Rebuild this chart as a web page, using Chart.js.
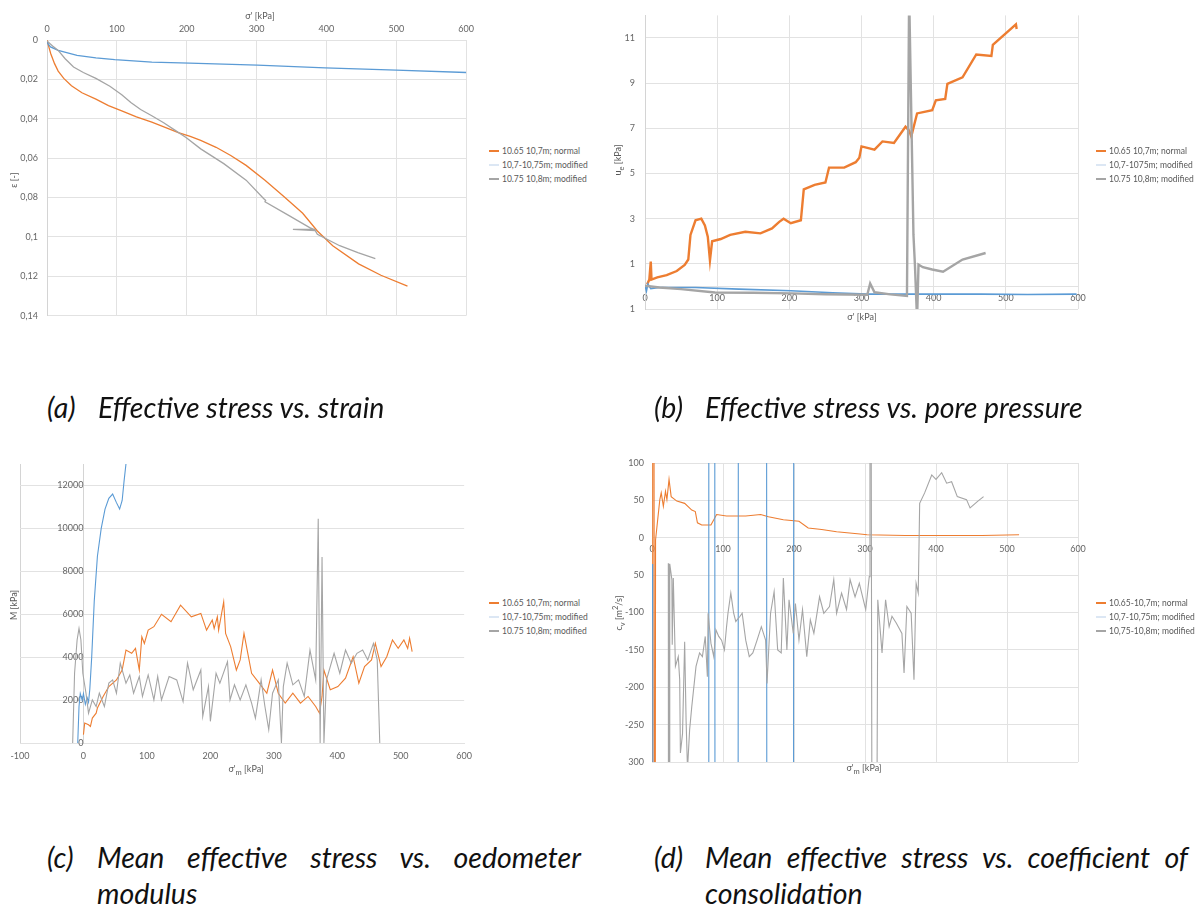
<!DOCTYPE html>
<html>
<head>
<meta charset="utf-8">
<script src="https://cdn.jsdelivr.net/npm/chart.js@4.4.1/dist/chart.umd.min.js"></script>
<style>
  body { margin: 0; background: #fff; }
  #page { position: relative; width: 1197px; height: 907px; overflow: hidden; font-family: Lato, "Open Sans", sans-serif; }
  canvas { position: absolute; }
  .axt { position: absolute; font-size: 9px; color: #595959; white-space: nowrap; transform: translate(-50%, -50%); }
  .axt.rot { transform: translate(-50%, -50%) rotate(-90deg); }
  .legend { position: absolute; font-size: 8.5px; color: #595959; line-height: 14px; }
  .legend div { display: flex; align-items: center; white-space: nowrap; }
  .legend .sw { display: inline-block; width: 10px; height: 1.5px; margin-right: 3px; }
  .cap { position: absolute; font-style: italic; font-weight: 400; font-size: 28.5px; line-height: 36px; color: #111; white-space: nowrap; }
  .cap.just { text-align: justify; text-align-last: justify; white-space: normal; }
</style>
</head>
<body>
<div id="page">
  <canvas id="chartA" width="480" height="330" style="left:0;top:0"></canvas>
  <canvas id="chartB" width="600" height="330" style="left:600px;top:0"></canvas>
  <canvas id="chartC" width="480" height="340" style="left:0;top:440px"></canvas>
  <canvas id="chartD" width="600" height="340" style="left:600px;top:440px"></canvas>

  <div class="axt" style="left:260px;top:15px">σ' [kPa]</div>
  <div class="axt rot" style="left:13px;top:180px">ε [-]</div>
  <div class="axt" style="left:862px;top:316px">σ' [kPa]</div>
  <div class="axt rot" style="left:619px;top:160px">u<sub>e</sub> [kPa]</div>
  <div class="axt" style="left:246px;top:770px">σ'<sub>m</sub> [kPa]</div>
  <div class="axt rot" style="left:13px;top:605px">M [kPa]</div>
  <div class="axt" style="left:864px;top:769px">σ'<sub>m</sub> [kPa]</div>
  <div class="axt rot" style="left:619px;top:613px">c<sub>v</sub> [m<sup>2</sup>/s]</div>

  <div class="legend" id="legA" style="left:489px;top:144px"></div>
  <div class="legend" id="legB" style="left:1096px;top:144px"></div>
  <div class="legend" id="legC" style="left:489px;top:596px"></div>
  <div class="legend" id="legD" style="left:1096px;top:596px"></div>

  <div class="cap" style="left:47px;top:389px">(a)</div>
  <div class="cap" style="left:98px;top:389px">Effective stress vs. strain</div>
  <div class="cap" style="left:654px;top:389px">(b)</div>
  <div class="cap" style="left:705px;top:389px">Effective stress vs. pore pressure</div>
  <div class="cap" style="left:47px;top:839px">(c)</div>
  <div class="cap just" style="left:97px;top:839px;width:484px">Mean effective stress vs. oedometer</div>
  <div class="cap" style="left:97px;top:875px">modulus</div>
  <div class="cap" style="left:654px;top:839px">(d)</div>
  <div class="cap just" style="left:705px;top:839px;width:483px">Mean effective stress vs. coefficient of</div>
  <div class="cap" style="left:705px;top:875px">consolidation</div>
</div>

<script>
// colours of the three samples
const ORANGE = "#ed7d31";
const BLUE = "#5b9bd5";
const GRAY = "#a5a5a5";
const LEGEND_COLORS = [ORANGE, "#dce7f4", GRAY];
const GRID = "#e2e2e2";
const TICK_COLOR = "#666";

// (a) effective stress [kPa] vs strain [-]
const aNormal = [[0,0],[3,0.004],[5.4,0.007],[10.8,0.012],[16,0.0158],[24,0.0195],[35,0.0232],[50,0.0268],[70,0.030],[88,0.0333],[107,0.036],[128,0.039],[150,0.0417],[170,0.0445],[188,0.047],[205,0.049],[220,0.051],[242,0.0545],[263,0.0587],[285,0.0637],[312,0.0712],[339,0.0795],[366,0.088],[387,0.097],[409,0.1045],[446,0.1137],[478,0.1195],[516,0.125]];
const aMod1 = [[0,0.0012],[5,0.0035],[16,0.0053],[43,0.0078],[70,0.0091],[97,0.010],[150,0.0112],[204,0.0117],[301,0.0128],[398,0.0142],[500,0.0153],[600,0.0165]];
const aMod2 = [[0,0.0005],[8,0.003],[16,0.0053],[26,0.0095],[38,0.0137],[52,0.0165],[70,0.0195],[90,0.0235],[107,0.0278],[120,0.0318],[134,0.0353],[150,0.0385],[167,0.042],[183,0.0458],[199,0.0495],[220,0.0553],[253,0.0628],[285,0.0712],[310,0.0805],[313,0.0815],[312,0.0822],[344,0.0887],[376,0.0953],[382,0.0962],[352,0.0962],[384,0.0968],[387,0.0987],[419,0.1045],[445,0.108],[470,0.111]];
const aLegend = ["10.65 10,7m; normal", "10,7-10,75m; modified", "10.75 10,8m; modified"];
const strainTicks = [0, 0.02, 0.04, 0.06, 0.08, 0.1, 0.12, 0.14];

// (b) effective stress [kPa] vs excess pore pressure [kPa]
const bNormal = [[3,0.1],[6,0.3],[8,1.1],[9,0.3],[17,0.4],[30,0.5],[44,0.68],[55,0.95],[60,1.19],[63,2.28],[70,2.93],[78,3.0],[83,2.7],[87,2.2],[90,1.15],[93,2.0],[105,2.1],[118,2.28],[139,2.42],[160,2.35],[176,2.57],[186,2.86],[192,3.0],[202,2.8],[216,2.93],[220,4.3],[235,4.5],[250,4.6],[255,5.26],[276,5.26],[292,5.5],[297,5.7],[300,6.2],[318,6.06],[329,6.42],[345,6.35],[361,7.07],[366,6.9],[369,6.64],[377,7.66],[398,7.8],[403,8.24],[416,8.3],[419,8.97],[440,9.26],[459,10.27],[480,10.2],[482,10.7],[514,11.6],[515,11.4]];
const bMod1 = [[0,0.05],[2,-0.2],[4,0.1],[8,-0.1],[20,-0.05],[70,-0.05],[130,-0.12],[202,-0.19],[260,-0.28],[308,-0.34],[400,-0.34],[466,-0.34],[530,-0.36],[598,-0.34]];
const bMod2 = [[0,0.03],[20,-0.05],[50,-0.12],[97,-0.27],[150,-0.28],[202,-0.31],[250,-0.35],[308,-0.37],[312,0.13],[318,-0.26],[340,-0.35],[363,-0.42],[366,13],[372,2.28],[374,0.97],[377,-1.5],[379,0.97],[385,0.85],[398,0.75],[413,0.65],[440,1.19],[472,1.48]];
const bLegend = ["10.65 10,7m; normal", "10,7-1075m; modified", "10.75 10,8m; modified"];
const bTicks = [-1, 1, 3, 5, 7, 9, 11];
const bTickLabels = ["1", "1", "3", "5", "7", "9", "11"];

// (c) mean effective stress [kPa] vs oedometer modulus [kPa]
const cNormal = [[0,390],[2,930],[8,850],[11,770],[14,1160],[20,1390],[22,1630],[31,2170],[40,2630],[52,2940],[61,3400],[67,4330],[76,4180],[82,4410],[88,3400],[92,4950],[96,4640],[102,5260],[111,5420],[123,6000],[138,5650],[153,6420],[170,5880],[185,6040],[194,5260],[203,5730],[206,5340],[211,5880],[213,5260],[221,6580],[224,5110],[232,4490],[241,3400],[247,3870],[253,5110],[259,4180],[265,3250],[277,2790],[289,2320],[298,3400],[307,2320],[318,1860],[330,2320],[342,1860],[354,2170],[366,1700],[372,1390],[376,2170],[379,3400],[389,2480],[401,2630],[413,3020],[425,4020],[434,2790],[443,3560],[454,3870],[460,4640],[469,3560],[478,4020],[487,4800],[496,4410],[505,4800],[511,4410],[514,4880],[518,4260]];
const cMod1 = [[-9,0],[-7,1700],[-5,2300],[-2,2000],[0,2300],[3,1800],[6,2100],[8,1900],[10,2500],[13,4000],[17,6600],[22,8700],[28,10000],[34,10900],[40,11400],[46,11600],[52,11200],[57,10900],[61,11300],[64,12200],[67,13000]];
const cMod2 = [[-17,0],[-14,3250],[-10,4800],[-7,5340],[-4,4800],[-1,3250],[4,2320],[8,1390],[14,2010],[20,1700],[25,2320],[33,1700],[40,2790],[46,2940],[52,2320],[58,3720],[67,2790],[73,3170],[79,2320],[88,3100],[93,2170],[102,3170],[111,2010],[117,3100],[123,2010],[135,3100],[147,2940],[157,1930],[164,3720],[173,2480],[185,3400],[188,1240],[197,2630],[200,1010],[209,3250],[215,2790],[227,3790],[231,2010],[238,2710],[247,2010],[256,2710],[265,1860],[271,1160],[280,2940],[286,1700],[292,620],[298,2320],[307,2940],[312,0],[315,2630],[321,3720],[330,2710],[339,2940],[348,2170],[357,4330],[366,2940],[370,10450],[373,0],[376,8670],[379,0],[383,2940],[395,4180],[404,3250],[413,4330],[422,3720],[431,4180],[440,4330],[448,3870],[457,4640],[463,3870],[467,0]];
const cLegend = ["10.65 10,7m; normal", "10,7-10,75m; modified", "10.75 10,8m; modified"];
const stressTicksC = [-100, 0, 100, 200, 300, 400, 500, 600];
const modulusTicks = [0, 2000, 4000, 6000, 8000, 10000, 12000];

// (d) mean effective stress [kPa] vs coefficient of consolidation [m2/s]
const dNormal = [[0,-1000],[1,1000],[2,1000],[4,-1000],[5,-3],[11,51],[13,60],[16,42],[19,62],[21,51],[24,78],[27,55],[35,49],[46,46],[56,37],[61,35],[64,20],[70,17],[83,17],[91,31],[105,29],[132,29],[153,31],[164,28],[185,24],[207,22],[220,13],[239,11],[260,8],[293,5],[303,4],[357,3],[411,3],[465,3],[517,4]];
const dMod1 = [[0,-35],[1,-120],[2,-1000],[79,-1000],[80,1000],[88,1000],[89,-1000],[121,-1000],[122,1000],[161,1000],[162,-1000],[199,-1000],[200,1000]];
const dMod2 = [[23,-34],[23.5,-1000],[24.5,-1000],[25,-35],[28,-56],[28.5,-143],[30,-54],[33,-172],[37,-159],[39,-190],[40,-288],[43,-262],[46,-139],[48,-244],[50,-310],[53,-257],[56,-226],[62,-172],[67,-154],[71,-159],[75,-132],[78,-186],[79,-101],[83,-141],[87,-159],[90,-123],[94,-132],[98,-137],[102,-150],[105,-119],[107,-101],[111,-74],[115,-101],[118,-112],[124,-105],[127,-101],[132,-137],[137,-159],[142,-154],[148,-137],[154,-119],[160,-137],[162,-195],[167,-101],[172,-72],[177,-150],[182,-154],[185,-54],[190,-150],[193,-83],[199,-128],[202,-88],[207,-137],[212,-96],[218,-159],[223,-110],[228,-128],[236,-79],[242,-101],[250,-92],[256,-56],[260,-101],[267,-74],[274,-96],[279,-56],[286,-79],[292,-61],[301,-96],[306,-52],[307,1000],[311,-1000],[314,-1000],[318,-83],[324,-154],[329,-83],[334,-119],[338,-105],[344,-114],[352,-128],[355,-181],[359,-92],[365,-101],[369,-190],[372,-61],[375,-74],[377,46],[384,60],[394,84],[400,78],[408,87],[415,73],[422,75],[430,55],[443,51],[448,40],[459,49],[467,55]];
const dLegend = ["10.65-10,7m; normal", "10,7-10,75m; modified", "10,75-10,8m; modified"];
const cvTicks = [100, 50, 0, -50, -100, -150, -200, -250, -300];
const cvTickLabels = ["100", "50", "0", "50", "-100", "-150", "-200", "-250", "300"];
const stressTicks = [0, 100, 200, 300, 400, 500, 600];

Chart.defaults.font.family = "Lato";
Chart.defaults.font.size = 9;
Chart.defaults.color = TICK_COLOR;

// order: later series sit on top (orange below, gray above)
function series(points, color, width, order) {
  return {
    data: points.map(([x, y]) => ({ x, y })),
    borderColor: color,
    backgroundColor: color,
    borderWidth: width,
    pointRadius: 0,
    showLine: true,
    tension: 0,
    fill: false,
    order,
  };
}

function fixedTicks(values) {
  return (scale) => { scale.ticks = values.map((v) => ({ value: v })); };
}

function legend(id, labels) {
  const box = document.getElementById(id);
  labels.forEach((text, i) => {
    const row = document.createElement("div");
    row.innerHTML = `<span class="sw" style="background:${LEGEND_COLORS[i]}"></span>${text}`;
    box.appendChild(row);
  });
}

const baseOptions = {
  responsive: false,
  animation: false,
  events: [],
  plugins: { legend: { display: false }, tooltip: { enabled: false } },
};

// (a)
new Chart(document.getElementById("chartA"), {
  type: "scatter",
  data: { datasets: [series(aNormal, ORANGE, 1.3, 3), series(aMod1, BLUE, 1.3, 2), series(aMod2, GRAY, 1.3, 1)] },
  options: {
    ...baseOptions,
    layout: { padding: { left: 0, top: 0, right: 8, bottom: 10 } },
    scales: {
      x: {
        type: "linear", position: "top", min: 0, max: 600,
        afterBuildTicks: fixedTicks(stressTicks),
        afterFit: (s) => { s.height = 40; },
        grid: { color: GRID, drawTicks: false },
        border: { display: false },
        ticks: { padding: 6, maxRotation: 0 },
      },
      y: {
        type: "linear", min: 0, max: 0.14, reverse: true,
        afterBuildTicks: fixedTicks(strainTicks),
        afterFit: (s) => { s.width = 47; },
        grid: { color: GRID, drawTicks: false },
        border: { color: "#d4d4d4" },
        ticks: { padding: 9, callback: (v) => String(Math.round(v * 100) / 100).replace(".", ",") },
      },
    },
  },
});

// (b)
new Chart(document.getElementById("chartB"), {
  type: "scatter",
  data: { datasets: [series(bNormal, ORANGE, 2.4, 3), series(bMod1, BLUE, 1.6, 2), series(bMod2, GRAY, 2.4, 1)] },
  options: {
    ...baseOptions,
    layout: { padding: { left: 0, top: 12, right: 122, bottom: 21 } },
    scales: {
      x: {
        type: "linear", position: { y: 0 }, min: 0, max: 600,
        afterBuildTicks: fixedTicks(stressTicks),
        grid: { color: GRID, drawTicks: false },
        border: { color: GRID },
        ticks: { padding: 6, maxRotation: 0 },
      },
      y: {
        type: "linear", min: -1, max: 12,
        afterBuildTicks: fixedTicks(bTicks),
        afterFit: (s) => { s.width = 45; },
        grid: { color: GRID, drawTicks: false },
        border: { color: "#d4d4d4" },
        ticks: { padding: 10, callback: (v, i) => bTickLabels[i] },
      },
    },
  },
});

// (c)
new Chart(document.getElementById("chartC"), {
  type: "scatter",
  data: { datasets: [series(cNormal, ORANGE, 1.1, 3), series(cMod1, BLUE, 1.1, 2), series(cMod2, GRAY, 1.1, 1)] },
  options: {
    ...baseOptions,
    layout: { padding: { left: 20, top: 24, right: 8, bottom: 0 } },
    scales: {
      x: {
        type: "linear", position: "bottom", min: -100, max: 600,
        afterBuildTicks: fixedTicks(stressTicksC),
        afterFit: (s) => { s.height = 37; },
        grid: { drawTicks: false, color: (ctx) => (ctx.tick && ctx.tick.value === -100 ? "#d4d4d4" : "rgba(0,0,0,0)") },
        border: { color: GRID },
        ticks: { padding: 8, maxRotation: 0 },
      },
      y: {
        type: "linear", position: { x: 0 }, min: 0, max: 13000,
        afterBuildTicks: fixedTicks(modulusTicks),
        grid: { color: GRID, drawTicks: false },
        border: { color: "#d4d4d4" },
        ticks: { padding: 8, callback: (v) => String(v) },
      },
    },
  },
});

// (d)
new Chart(document.getElementById("chartD"), {
  type: "scatter",
  data: { datasets: [series(dNormal, ORANGE, 1.1, 3), series(dMod1, BLUE, 1.1, 2), series(dMod2, GRAY, 1.1, 1)] },
  options: {
    ...baseOptions,
    layout: { padding: { left: 0, top: 23, right: 122, bottom: 18 } },
    scales: {
      x: {
        type: "linear", position: { y: 0 }, min: 0, max: 600,
        afterBuildTicks: fixedTicks(stressTicks),
        grid: { color: GRID, drawTicks: false },
        border: { color: GRID },
        ticks: { padding: 6, maxRotation: 0 },
      },
      y: {
        type: "linear", min: -300, max: 100,
        afterBuildTicks: fixedTicks(cvTicks),
        afterFit: (s) => { s.width = 52; },
        grid: { color: GRID, drawTicks: false },
        border: { color: GRID },
        ticks: { padding: 8, callback: (v, i) => cvTickLabels[i] },
      },
    },
  },
});

legend("legA", aLegend);
legend("legB", bLegend);
legend("legC", cLegend);
legend("legD", dLegend);
</script>
</body>
</html>
